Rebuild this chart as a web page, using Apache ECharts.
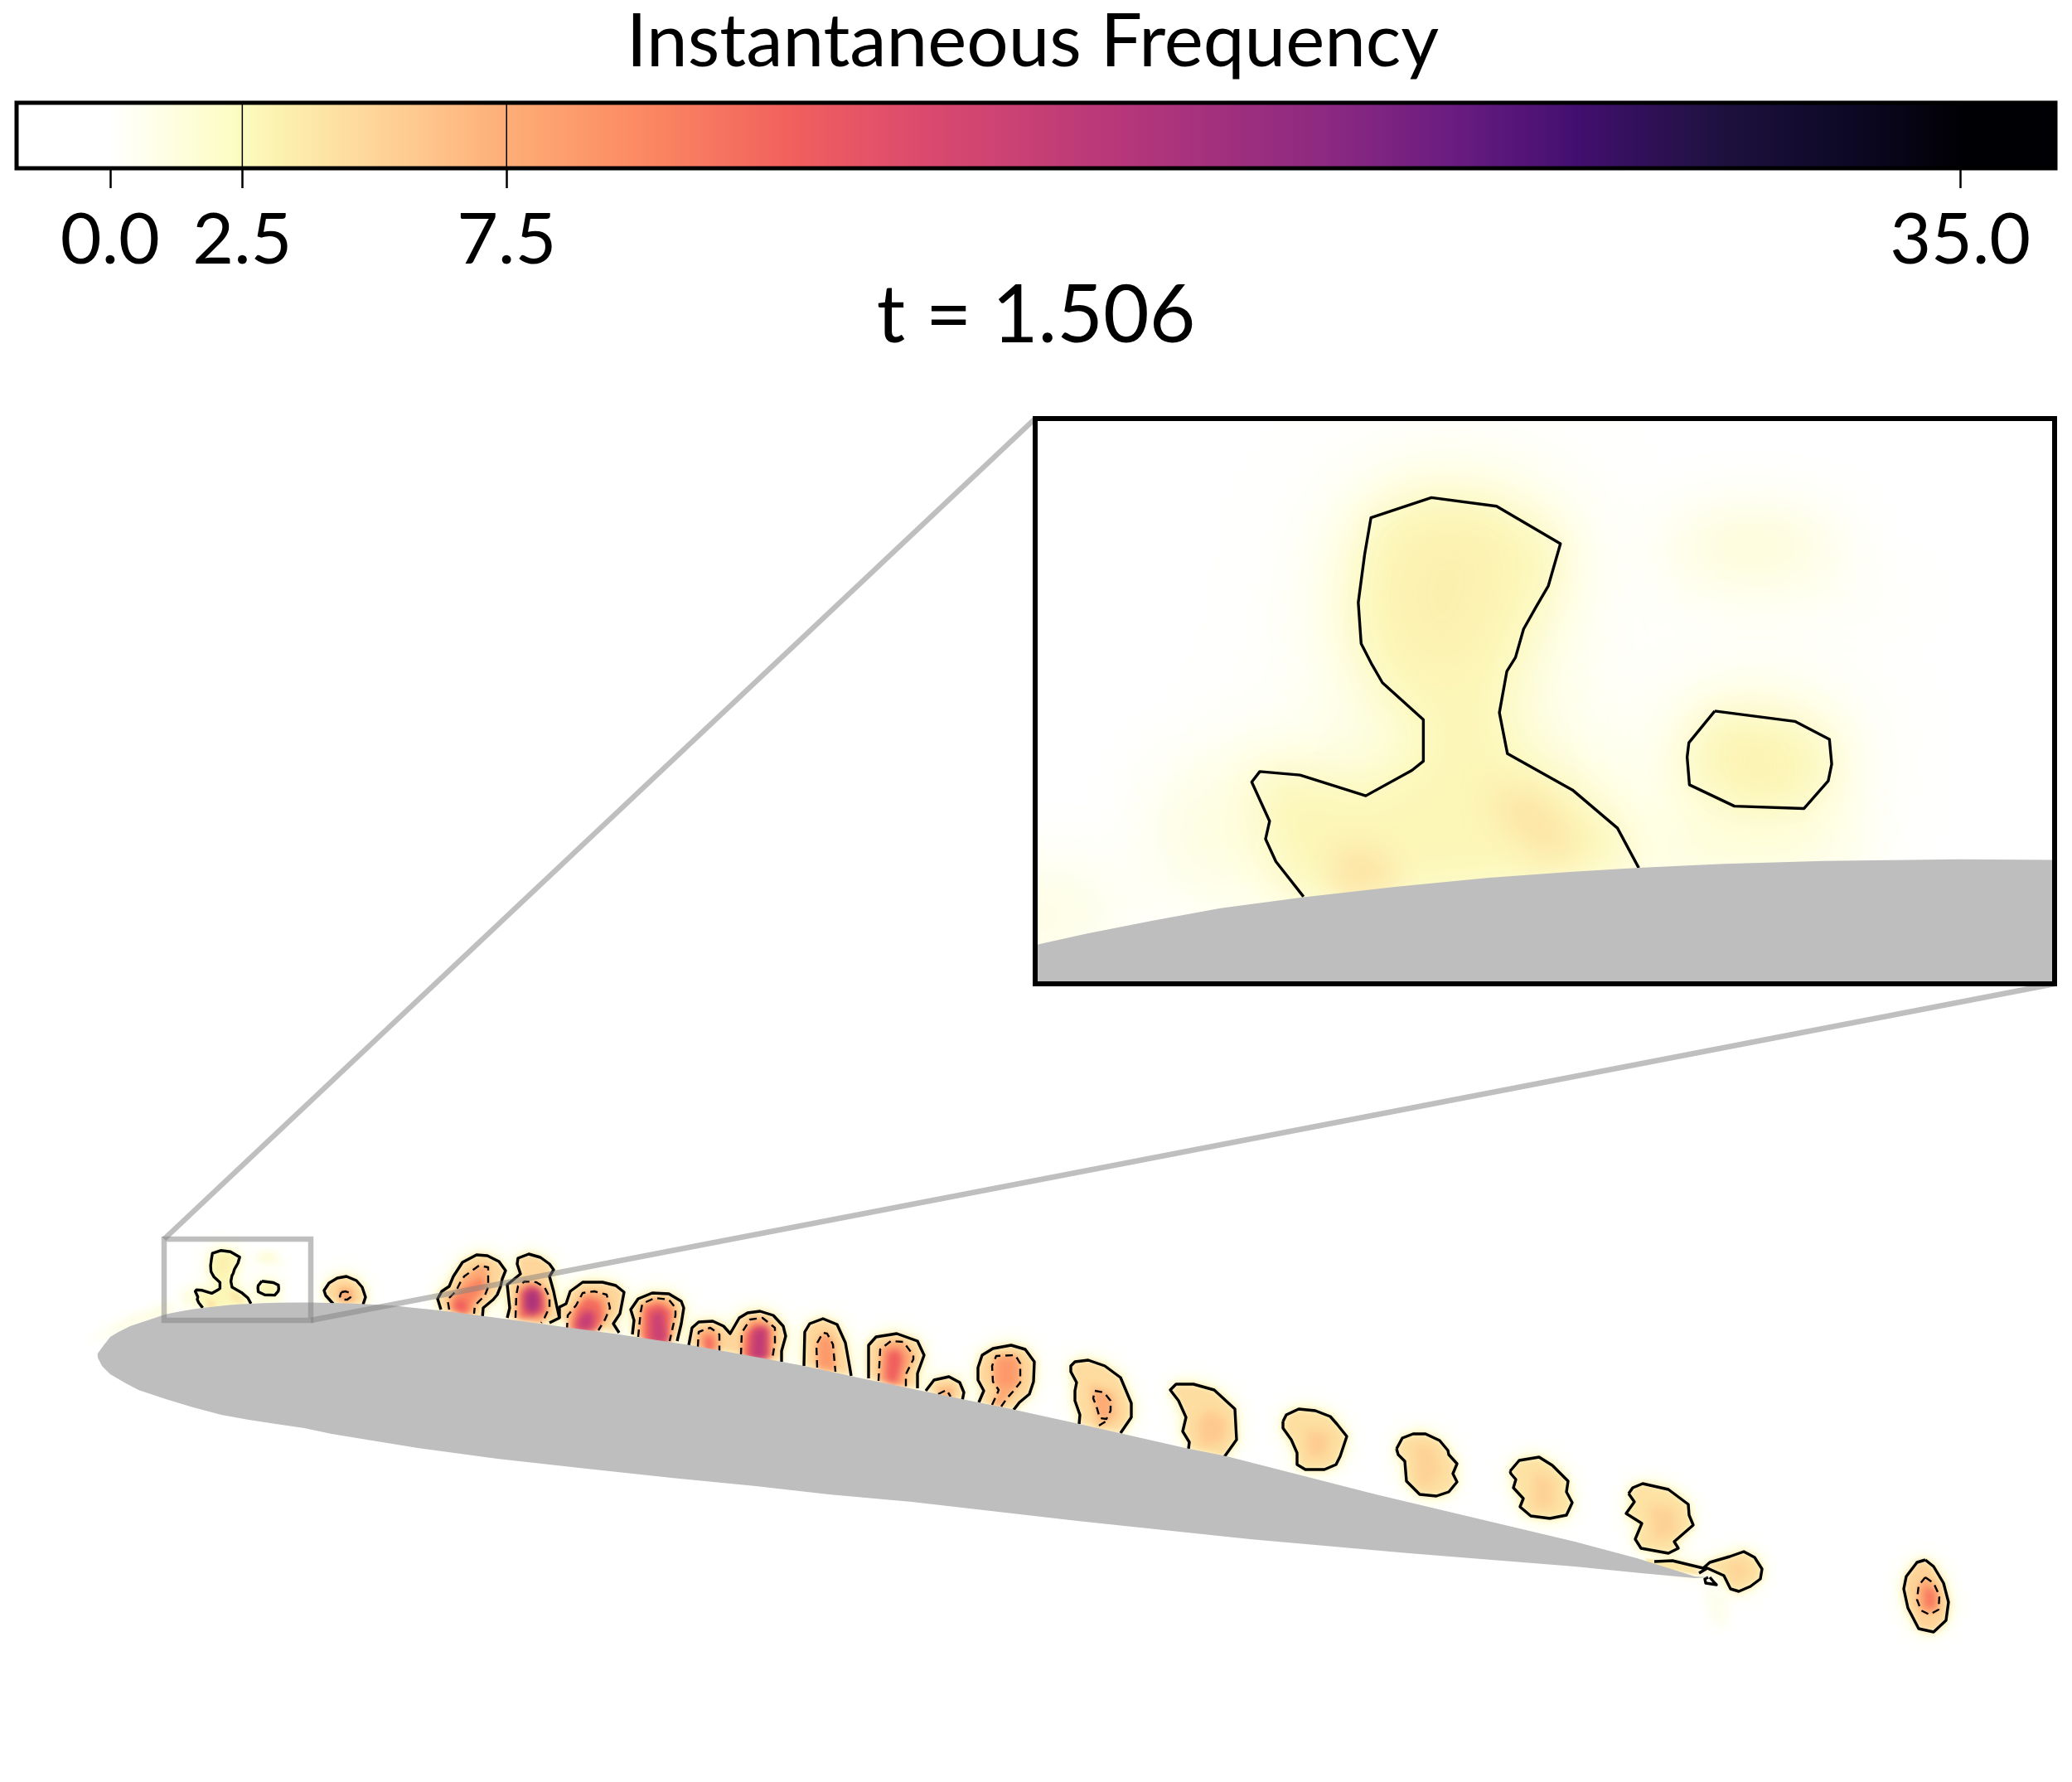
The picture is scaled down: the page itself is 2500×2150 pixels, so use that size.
<!DOCTYPE html>
<html>
<head>
<meta charset="utf-8">
<title>Instantaneous Frequency</title>
<script src="https://cdn.jsdelivr.net/npm/echarts@6/dist/echarts.min.js"></script>
<style>
    html, body { margin: 0; padding: 0; background: #fff; }
    #chart { width: 2500px; height: 2150px; }
</style>
</head>
<body>
<div id="chart"></div>
<script>
// colour scale
var colourValues = [-1.8, 0, 1.0, 2.5, 3.2, 5, 7.5, 10, 12.9, 15.4, 19.2, 23, 25.4, 27.7, 30.4, 33, 35, 36.8];
var colourHexes = ['#ffffff', '#ffffff', '#fefee6', '#fcfcc0', '#fcf2b0', '#fed59a', '#feae77', '#fc8a62',
    '#f1605d', '#db4a6e', '#b5367a', '#8c2981', '#6a1c80', '#420f70', '#1e1140', '#0c0824', '#000004', '#000004'];
var tickValues = [0, 2.5, 7.5, 35];
var contourLevels = [2.5, 7.5];

// wing section, same units as the picture
var airfoilUpper = [[117.7,1633.3],[125,1623.3],[133,1613],[143,1607],[157,1600],[172,1595],[187,1590],[198,1586.3],[206.9,1584.3],
    [218.6,1582],[230.2,1579.9],[244.6,1578],[260.5,1576.2],[276.8,1574.6],[290.8,1573.6],[302.8,1572.9],[317.6,1572.2],[335,1571.7],
    [358.4,1571.4],[374.7,1571.5],[420,1572.5],[473,1575],[500,1578],[530,1581],[600,1590],[673,1600],[747,1610],[833,1623],[900,1635],
    [970,1648],[1030,1661],[1107,1677],[1180,1692],[1220,1700],[1302,1718],[1430,1747],[1480,1757],[1570,1780],[1660,1803],[1900,1860],
    [1975,1880],[2045,1902],[2062,1903]];
var airfoilLower = [[2045,1904],[1980,1898],[1900,1890],[1700,1874],[1508,1857],[1300,1835],[1100,1812],[1000,1803],[912,1793],[810,1783],
    [708,1772],[600,1760],[504,1747],[400,1730],[367,1723],[333,1718],[300,1713],[267,1707],[233,1698],[200,1688],[167,1677],[150,1668],
    [133,1658],[123,1648],[118,1638]];

// zoomed window
var zoomX = [198, 375];
var zoomY = [1495, 1593];

// level 2.5 contours, [points, closed, level inside]
var contourA = [[244.6,1577.9],[239.8,1571.8],[238,1567.9],[238.7,1564.8],[235.6,1558],[237,1556.2],[244,1556.8],[255.4,1560.4],
    [263.4,1556],[265.4,1554.4],[265.4,1547.2],[258.3,1540.8],[256.5,1537.7],[254.6,1534],[254.1,1526.9],[255.2,1518.6],[256.3,1512.2],
    [266.8,1508.7],[278.1,1510.2],[289.2,1516.7],[287.1,1524],[285,1527.6],[282.8,1531.5],[281.4,1536.4],[279.9,1538.8],[278.6,1546],
    [280,1553.1],[291.3,1559.4],[299.1,1566],[302.8,1572.9]];
var contourA2 = [[316,1545.7],[329.9,1547.5],[335.9,1550.6],[336.3,1554.9],[335.7,1557.8],[331.5,1562.6],[319.4,1562.2],[311.6,1558.5],[311.2,1553.7],[311.5,1551.2]];
var contourB = [[402,1573],[393,1563],[391,1557],[397,1548],[407,1542],[418,1540],[430,1545],[437,1553],[441,1565],[438,1574]];
var contourC = [[532,1580],[528,1567],[533,1558],[542,1552],[547,1540],[558,1523],[575,1514],[588,1515],[602,1522],[610,1533],[606,1543],[604,1552],[600,1562],[595,1568],[583,1578],[582,1590]];
var contourD = [[612,1590],[615,1578],[612,1550],[628,1537],[624,1525],[625,1518],[638,1513],[652,1517],[663,1525],[668,1532],[663,1540],[668,1558],[672,1577],[675,1590],[663,1596]];
var contourE = [[675,1590],[675,1577],[683,1573],[688,1558],[703,1547],[727,1547],[743,1551],[753,1559],[748,1585],[740,1597],[747,1608]];
var contourF = [[763,1610],[765,1593],[761,1580],[770,1567],[787,1560],[807,1561],[822,1570],[825,1578],[822,1597],[817,1618]];
var contourG = [[831,1623],[835,1602],[843,1595],[860,1594],[873,1600],[881,1609],[892,1590],[902,1584],[917,1582],[933,1587],[945,1600],[948,1612],[943,1630],[943,1643]];
var contourH = [[970,1648],[971,1607],[977,1597],[993,1591],[1010,1598],[1020,1620],[1025,1648],[1027,1660]];
var contourI = [[1048,1663],[1048,1623],[1057,1613],[1082,1609],[1107,1618],[1115,1635],[1107,1657],[1107,1675]];
var contourJ = [[1117,1678],[1127,1665],[1145,1661],[1158,1668],[1163,1680],[1161,1690]];
var contourK = [[1181,1692],[1187,1678],[1180,1665],[1180,1650],[1185,1635],[1198,1627],[1220,1623],[1237,1628],[1248,1643],[1247,1667],[1242,1682],[1230,1692],[1223,1701]];
var contourL = [[1302,1718],[1303,1707],[1297,1690],[1297,1678],[1299,1668],[1292,1655],[1292,1648],[1297,1643],[1313,1641],[1333,1648],[1352,1662],[1365,1693],[1365,1710],[1352,1729]];
var contourM = [[1434,1748],[1435,1740],[1427,1727],[1431,1710],[1422,1690],[1412,1677],[1419,1670],[1440,1670],[1465,1677],[1490,1700],[1492,1737],[1477,1758]];
var contourN = [[1548,1715],[1552,1707],[1567,1700],[1587,1702],[1605,1709],[1613,1718],[1625,1733],[1617,1757],[1612,1767],[1598,1773],[1575,1773],[1565,1767],[1565,1753],[1558,1737],[1548,1723]];
var contourO = [[1685,1748],[1692,1735],[1705,1730],[1720,1730],[1737,1738],[1747,1750],[1748,1755],[1758,1766],[1753,1778],[1758,1788],[1748,1800],[1733,1805],[1713,1803],[1697,1787],[1695,1763],[1687,1755]];
var contourP = [[1822,1775],[1833,1762],[1857,1758],[1873,1768],[1892,1787],[1890,1800],[1897,1813],[1890,1828],[1870,1832],[1847,1829],[1834,1818],[1838,1808],[1826,1795],[1829,1785],[1823,1778]];
var contourQ = [[1965,1802],[1970,1795],[1982,1790],[2013,1797],[2037,1815],[2038,1828],[2043,1840],[2020,1860],[2025,1868],[2013,1874],[1980,1868],[1973,1857],[1981,1838],[1962,1826],[1972,1812]];
var contourR = [[1996,1884],[2018,1883],[2055,1892],[2063,1885],[2087,1878],[2104,1872],[2117,1879],[2126,1893],[2124,1905],[2112,1914],[2098,1920],[2088,1917],[2080,1901],[2060,1892],[2050,1898]];
var contourR2 = [[2063,1903],[2069,1910],[2071,1912],[2058,1910],[2057,1905],[2061,1903]];
var contourS = [[2323,1882],[2313,1885],[2300,1902],[2297,1917],[2302,1940],[2315,1965],[2333,1969],[2348,1955],[2351,1933],[2345,1910],[2333,1890]];

var outerContours = [
    [contourA, false, 2.9], [contourA2, true, 2.9], [contourB, false, 4.8], [contourC, false, 5], [contourD, false, 5], [contourE, false, 5],
    [contourF, false, 5], [contourG, false, 5], [contourH, false, 5], [contourI, false, 5], [contourJ, false, 4.8], [contourK, false, 5],
    [contourL, false, 4.6], [contourM, false, 4.5], [contourN, true, 4.4], [contourO, true, 4.3], [contourP, true, 4.2], [contourQ, true, 4.2],
    [contourR, false, 4.4], [contourS, true, 5.2]
];
var smallContours = [[contourR2, false]];

// level 7.5 contours
var dashedContours = [
    [[[412,1559],[417,1558],[422,1560],[423,1565],[419,1568],[413,1568],[410,1564]], true],
    [[[542,1580],[540,1568],[550,1558],[555,1548],[560,1540],[578,1527],[589,1529],[589,1553],[585,1563],[573,1575],[572,1585]], false],
    [[[622,1590],[623,1562],[625,1552],[633,1546],[647,1547],[657,1553],[663,1565],[663,1577],[657,1590],[653,1596]], false],
    [[[684,1605],[685,1587],[695,1575],[703,1560],[717,1558],[732,1562],[736,1578],[730,1592],[722,1605]], false],
    [[[770,1613],[773,1583],[775,1573],[790,1566],[807,1568],[815,1578],[815,1587],[808,1618]], false],
    [[[842,1625],[843,1607],[857,1602],[868,1610],[868,1630]], false],
    [[[894,1635],[895,1608],[905,1592],[920,1590],[935,1602],[935,1620],[932,1638]], false],
    [[[986,1650],[985,1622],[993,1608],[998,1609],[1005,1622],[1008,1655]], false],
    [[[1060,1666],[1062,1628],[1075,1618],[1090,1619],[1102,1635],[1102,1640],[1093,1658],[1093,1673]], false],
    [[[1132,1682],[1142,1677],[1147,1685]], false],
    [[[1197,1695],[1203,1682],[1205,1677],[1198,1667],[1197,1648],[1202,1636],[1225,1635],[1231,1645],[1231,1668],[1223,1678],[1215,1687],[1208,1697]], false],
    [[[1321,1678],[1332,1680],[1340,1690],[1340,1702],[1335,1712],[1327,1711],[1323,1697],[1319,1687]], true],
    [[[1326,1720],[1334,1715]], false],
    [[[2323,1903],[2333,1910],[2340,1925],[2339,1942],[2328,1948],[2318,1943],[2313,1930],[2315,1913]], true]
];

// soft spots of the field, [points, level, blur]
var fieldSpots = [
    [[[265,1515],[277,1515],[277,1526],[271,1538],[263,1534],[261,1524]], 3.3, 7],
    [[[277,1559],[286,1560],[293,1570],[287,1572],[279,1565]], 4.1, 6],
    [[[250,1569],[258,1570],[262,1576],[250,1578]], 4.1, 5],
    [[[319,1551],[326,1552],[327,1559],[322,1559]], 3.1, 5],
    [[[305,1517],[315,1513],[330,1513],[340,1517],[330,1521],[315,1521]], 2.6, 12],
    [[[305,1524],[350,1524],[350,1528],[312,1528]], 0.9, 14],
    [[[222,1560],[232,1555],[235,1572],[222,1578]], 2.2, 16],
    [[[310,1565],[335,1566],[345,1571],[305,1573]], 2.4, 12],
    [[[100,1620],[150,1592],[205,1570],[215,1585],[150,1605]], 1.1, 12],
    [[[2055,1912],[2085,1925],[2085,1965],[2065,1960]], 0.7, 14],
    [[[1985,1880],[2040,1888],[2050,1900],[1990,1890]], 3.6, 2],
    [[[410,1552],[425,1555],[428,1570],[410,1570]], 7, 6],
    [[[545,1580],[548,1565],[565,1550],[580,1540],[585,1552],[570,1570],[565,1585]], 10.5, 7],
    [[[548,1578],[552,1568],[562,1570],[562,1585]], 13, 7],
    [[[628,1590],[628,1560],[640,1550],[655,1560],[658,1585]], 12.5, 7],
    [[[633,1557],[650,1555],[653,1577],[643,1587],[633,1580]], 20, 10],
    [[[690,1605],[695,1580],[708,1565],[725,1570],[728,1590],[718,1605]], 12, 7],
    [[[695,1605],[698,1590],[708,1580],[718,1585],[715,1605]], 17.5, 9],
    [[[776,1620],[778,1578],[795,1572],[810,1582],[805,1620]], 12.5, 7],
    [[[785,1620],[785,1585],[800,1580],[805,1620]], 17, 9],
    [[[850,1630],[850,1612],[860,1612],[862,1630]], 12, 7],
    [[[898,1638],[900,1610],[912,1597],[928,1605],[928,1638]], 12.5, 7],
    [[[905,1640],[908,1605],[925,1600],[925,1640]], 18, 9],
    [[[990,1615],[1003,1615],[1005,1650],[990,1650]], 9, 8],
    [[[1068,1665],[1070,1630],[1085,1628],[1090,1640],[1082,1670]], 13, 8],
    [[[1130,1675],[1150,1672],[1150,1690],[1135,1690]], 6.8, 6],
    [[[1205,1640],[1225,1640],[1225,1670],[1205,1672]], 9, 8],
    [[[1315,1670],[1345,1680],[1350,1710],[1325,1725]], 6.2, 10],
    [[[1460,1700],[1480,1715],[1475,1740],[1450,1745],[1445,1715]], 5.8, 12],
    [[[1575,1725],[1605,1730],[1600,1755],[1580,1760]], 5.6, 12],
    [[[1705,1742],[1730,1745],[1740,1775],[1725,1795],[1710,1790]], 5.2, 12],
    [[[1850,1775],[1875,1785],[1875,1820],[1850,1820]], 5.2, 12],
    [[[1990,1815],[2020,1820],[2025,1850],[1995,1860]], 5.2, 12],
    [[[2085,1885],[2105,1885],[2110,1900],[2090,1910]], 5, 8],
    [[[2322,1915],[2335,1920],[2335,1940],[2322,1940]], 11, 7]
];

var FONT = 'Lato, "Noto Sans", sans-serif';
var AIRFOIL_GREY = '#bebebe';
var INDICATE = 'rgba(128,128,128,0.5)';
var OFFSCREEN = 6000;

function colourAt(v) {
    var i = 0;
    while (i < colourValues.length - 2 && v > colourValues[i + 1]) i++;
    var t = (v - colourValues[i]) / (colourValues[i + 1] - colourValues[i]);
    var a = echarts.color.parse(colourHexes[i]);
    var b = echarts.color.parse(colourHexes[i + 1]);
    return 'rgb(' + [0, 1, 2].map(function (k) { return Math.round(a[k] + (b[k] - a[k]) * t); }).join(',') + ')';
}

// every level set gets a wide pale halo, a close yellow one and a tighter body, the spots go on top
var patches = [];
outerContours.forEach(function (c) {
    patches.push({ pts: c[0], level: 1.5, blur: 30 });
    patches.push({ pts: c[0], level: 2.5, blur: 17 });
    patches.push({ pts: c[0], level: c[2], blur: 8 });
});
dashedContours.forEach(function (c) {
    if (c[0].length > 3) patches.push({ pts: c[0], level: 7.7, blur: 6 });
});
fieldSpots.forEach(function (s) {
    patches.push({ pts: s[0], level: s[1], blur: s[2] });
});
patches.sort(function (a, b) { return a.level - b.level; });

function toPixels(api, pts) {
    return pts.map(function (p) { return api.coord(p); });
}

function fieldSeries(gridIndex, scale, clip) {
    return {
        type: 'custom', xAxisIndex: gridIndex, yAxisIndex: gridIndex, clip: clip, silent: true, z: 1,
        data: patches.map(function (p, i) { return [i]; }),
        renderItem: function (params, api) {
            var p = patches[params.dataIndex];
            var colour = colourAt(p.level);
            // only the blurred shadow of the shape lands on the canvas
            var points = toPixels(api, p.pts).map(function (q) { return [q[0] - OFFSCREEN, q[1]]; });
            return {
                type: 'polygon', shape: { points: points },
                style: { fill: colour, shadowColor: colour, shadowBlur: p.blur * scale, shadowOffsetX: OFFSCREEN }
            };
        }
    };
}

function contourSeries(gridIndex, list, lineWidth, dash, clip) {
    return {
        type: 'custom', xAxisIndex: gridIndex, yAxisIndex: gridIndex, clip: clip, silent: true, z: 2,
        data: list.map(function (c, i) { return [i]; }),
        renderItem: function (params, api) {
            var c = list[params.dataIndex];
            var points = toPixels(api, c[1] ? c[0].concat([c[0][0]]) : c[0]);
            return {
                type: 'polyline', shape: { points: points },
                style: { fill: null, stroke: '#000', lineWidth: lineWidth, lineDash: dash, lineJoin: 'round' }
            };
        }
    };
}

function airfoilSeries(gridIndex, clip) {
    return {
        type: 'custom', xAxisIndex: gridIndex, yAxisIndex: gridIndex, clip: clip, silent: true, z: 3,
        data: [[0]],
        renderItem: function (params, api) {
            return {
                type: 'polygon', shape: { points: toPixels(api, airfoilUpper.concat(airfoilLower)) },
                style: { fill: AIRFOIL_GREY }
            };
        }
    };
}

var insetCorners = [[zoomX[0], zoomY[0]], [zoomX[1], zoomY[1]]];

var option = {
    animation: false,
    backgroundColor: '#fff',
    title: [
        { text: 'Instantaneous Frequency', left: 1241, top: 2, textAlign: 'center',
          textStyle: { fontFamily: FONT, fontWeight: 'normal', fontSize: 89, color: '#000' } },
        { text: 't = 1.506', left: 1245, top: 329, textAlign: 'center',
          textStyle: { fontFamily: FONT, fontWeight: 'normal', fontSize: 96, color: '#000' } }
    ],
    grid: [
        { left: 0, top: 0, width: 2500, height: 2150 },
        { left: 1249, top: 505, width: 1230, height: 682 },
        { left: 20, top: 124, width: 2460, height: 79 }
    ],
    xAxis: [
        { type: 'value', gridIndex: 0, min: 0, max: 2500, show: false },
        { type: 'value', gridIndex: 1, min: zoomX[0], max: zoomX[1], show: false },
        { type: 'value', gridIndex: 2, min: -1.77, max: 36.8, splitLine: { show: false }, axisLine: { show: false },
          axisTick: { show: true, customValues: tickValues, length: 24, lineStyle: { color: '#000', width: 2.5 } },
          axisLabel: { show: true, customValues: tickValues, margin: 44, color: '#000', fontFamily: FONT, fontSize: 86,
              formatter: function (v) { return v.toFixed(1); } } }
    ],
    yAxis: [
        { type: 'value', gridIndex: 0, min: 0, max: 2150, inverse: true, show: false },
        { type: 'value', gridIndex: 1, min: zoomY[0], max: zoomY[1], inverse: true, show: false },
        { type: 'value', gridIndex: 2, min: 0, max: 1, show: false }
    ],
    series: [
        fieldSeries(0, 1, false),
        contourSeries(0, outerContours, 3.4, null, false),
        contourSeries(0, smallContours, 3.4, null, false),
        contourSeries(0, dashedContours, 2.4, [9, 6], false),
        airfoilSeries(0, false),
        // rectangle and connectors of the zoom
        {
            type: 'custom', xAxisIndex: 0, yAxisIndex: 0, silent: true, z: 4, data: [[0]],
            renderItem: function (params, api) {
                var a = api.coord(insetCorners[0]);
                var b = api.coord(insetCorners[1]);
                var inA = api.coord([1249, 505]);
                var inB = api.coord([2479, 1187]);
                var stroke = { stroke: INDICATE, lineWidth: 6.5, fill: null };
                return {
                    type: 'group',
                    children: [
                        { type: 'rect', shape: { x: a[0], y: a[1], width: b[0] - a[0], height: b[1] - a[1] },
                          style: { stroke: INDICATE, lineWidth: 6.5, fill: null } },
                        { type: 'line', shape: { x1: a[0], y1: a[1], x2: inA[0], y2: inA[1] }, style: stroke },
                        { type: 'line', shape: { x1: b[0], y1: b[1], x2: inB[0], y2: inB[1] }, style: stroke }
                    ]
                };
            }
        },
        // inset repeats the same data through its own axes
        fieldSeries(1, 1230 / (zoomX[1] - zoomX[0]), true),
        contourSeries(1, outerContours, 3.4, null, true),
        airfoilSeries(1, true),
        {
            type: 'custom', xAxisIndex: 1, yAxisIndex: 1, clip: false, silent: true, z: 6, data: [[0]],
            renderItem: function (params, api) {
                var a = api.coord(insetCorners[0]);
                var b = api.coord(insetCorners[1]);
                return { type: 'rect', shape: { x: a[0], y: a[1], width: b[0] - a[0], height: b[1] - a[1] },
                    style: { fill: null, stroke: '#000', lineWidth: 6 } };
            }
        },
        // colour bar
        {
            type: 'custom', xAxisIndex: 2, yAxisIndex: 2, clip: false, silent: true, z: 1, data: [[0]],
            renderItem: function (params, api) {
                var a = api.coord([-1.77, 1]);
                var b = api.coord([36.8, 0]);
                var stops = colourValues.map(function (v, i) {
                    return { offset: Math.min(1, Math.max(0, (v + 1.77) / (36.8 + 1.77))), color: colourHexes[i] };
                });
                return { type: 'rect', shape: { x: a[0], y: a[1], width: b[0] - a[0], height: b[1] - a[1] },
                    style: { fill: new echarts.graphic.LinearGradient(0, 0, 1, 0, stops), stroke: '#000', lineWidth: 5 } };
            }
        },
        {
            type: 'custom', xAxisIndex: 2, yAxisIndex: 2, clip: false, silent: true, z: 2,
            data: contourLevels.map(function (v) { return [v]; }),
            renderItem: function (params, api) {
                var a = api.coord([api.value(0), 1]);
                var b = api.coord([api.value(0), 0]);
                return { type: 'line', shape: { x1: a[0], y1: a[1], x2: b[0], y2: b[1] }, style: { stroke: '#000', lineWidth: 1.5 } };
            }
        }
    ]
};

var chart = echarts.init(document.getElementById('chart'), null, { renderer: 'canvas' });
chart.setOption(option);
</script>
</body>
</html>
